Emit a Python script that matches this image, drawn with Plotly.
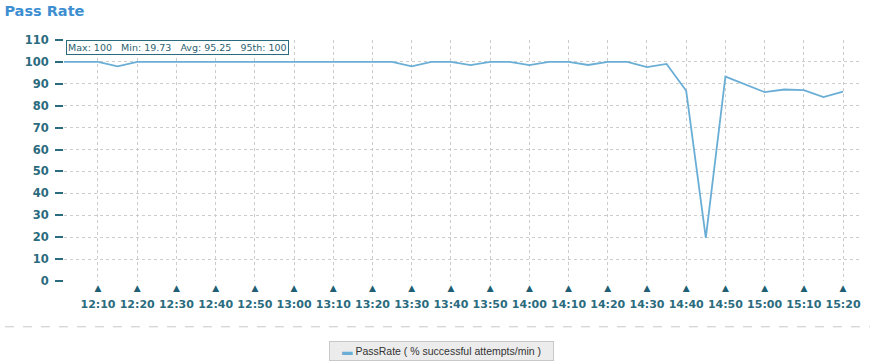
import plotly.graph_objects as go
import pandas as pd

times = ["12:00", "12:05", "12:10", "12:15", "12:20", "12:25", "12:30", "12:35", "12:40", "12:45",
         "12:50", "12:55", "13:00", "13:05", "13:10", "13:15", "13:20", "13:25", "13:30", "13:35",
         "13:40", "13:45", "13:50", "13:55", "14:00", "14:05", "14:10", "14:15", "14:20", "14:25",
         "14:30", "14:35", "14:40", "14:45", "14:50", "14:55", "15:00", "15:05", "15:10", "15:15",
         "15:20"]
pass_rate = [100, 100, 100, 98.0, 100, 100, 100, 100, 100, 100,
             100, 100, 100, 100, 100, 100, 100, 100, 98.0, 100,
             100, 98.5, 100, 100, 98.5, 100, 100, 98.6, 100, 100,
             97.6, 99.1, 86.8, 19.73, 93.3, 89.8, 86.2, 87.4, 87.1, 83.9,
             86.4]
tick_labels = ["12:10", "12:20", "12:30", "12:40", "12:50", "13:00", "13:10", "13:20", "13:30", "13:40",
               "13:50", "14:00", "14:10", "14:20", "14:30", "14:40", "14:50", "15:00", "15:10", "15:20"]
y_ticks = [0, 10, 20, 30, 40, 50, 60, 70, 80, 90, 100, 110]
stats_text = "Max: 100   Min: 19.73   Avg: 95.25   95th: 100"
series_name = "PassRate ( % successful attempts/min )"

day = "2024-01-01 "
x = pd.to_datetime([day + t for t in times])
tickvals = pd.to_datetime([day + t for t in tick_labels])
x_range = [pd.Timestamp(day + "12:01:20"), pd.Timestamp(day + "15:24:50")]

teal = "#2b6b7e"
line_col = "#6aaed6"
font_family = "DejaVu Sans"

fig = go.Figure()
fig.add_trace(go.Scatter(x=x, y=pass_rate, mode="lines", name=series_name,
                         line=dict(color=line_col, width=1.8), showlegend=False,
                         hoverinfo="x+y"))
# invisible twin trace so the label axis is drawn
fig.add_trace(go.Scatter(x=x, y=pass_rate, mode="lines", xaxis="x2", showlegend=False,
                         line=dict(color="rgba(0,0,0,0)", width=0), hoverinfo="skip"))

fig.update_layout(
    width=876, height=364,
    margin=dict(l=64, r=14, t=40, b=83),
    paper_bgcolor="white", plot_bgcolor="white",
    font=dict(family=font_family, color=teal),
    title=dict(text="<b>Pass Rate</b>", x=0.005, xanchor="left", y=0.985, yanchor="top",
               font=dict(family=font_family, size=14.5, color="#3d8fd1")),
    xaxis=dict(
        range=x_range, tickvals=tickvals, ticktext=["▲"] * len(tick_labels),
        tickfont=dict(family=font_family, size=9, color="#1f5f74"),
        showgrid=True, gridcolor="#cccccc", griddash="dot", gridwidth=1,
        showline=False, zeroline=False, ticks="", fixedrange=True,
    ),
    xaxis2=dict(
        overlaying="x", side="bottom", range=x_range, tickvals=tickvals,
        ticktext=["<b>" + t + "</b>" for t in tick_labels],
        tickfont=dict(family=font_family, size=11, color=teal),
        ticklabelstandoff=15,
        showgrid=False, showline=False, zeroline=False, ticks="", fixedrange=True,
    ),
    yaxis=dict(
        range=[0, 110], tickvals=y_ticks,
        ticktext=["<b>" + str(v) + "</b>" for v in y_ticks],
        tickfont=dict(family=font_family, size=11.5, color=teal),
        ticklabelstandoff=4,
        showgrid=True, gridcolor="#cccccc", griddash="dot", gridwidth=1,
        showline=False, zeroline=False,
        ticks="outside", ticklen=8, tickwidth=2, tickcolor=teal, fixedrange=True,
    ),
)

# statistics box
fig.add_annotation(xref="paper", yref="paper", x=0.003, y=0.998, xanchor="left", yanchor="top",
                   text=stats_text, showarrow=False,
                   font=dict(family=font_family, size=9.5, color="#2d5f6e"),
                   bgcolor="white", bordercolor=teal, borderwidth=1, borderpad=1)

# separator line
fig.add_shape(type="line", xref="paper", yref="paper", x0=-0.074, x1=1.01, y0=-0.19, y1=-0.19,
              line=dict(color="#c8c8c8", width=1, dash="dash"))

# legend button
fig.add_annotation(xref="paper", yref="paper", x=0.4725, y=-0.29, xanchor="center", yanchor="middle",
                   text="<span style='color:" + line_col + "'><b>▬</b></span> " + series_name,
                   showarrow=False, width=219, height=14,
                   font=dict(family="Liberation Sans", size=10.5, color="#333333"),
                   bgcolor="#ececec", bordercolor="#c8c8c8", borderwidth=1, borderpad=2)

fig.write_html("out.html", config={"displayModeBar": False},
               post_script="document.body.style.margin='0';document.body.style.padding='0';")
